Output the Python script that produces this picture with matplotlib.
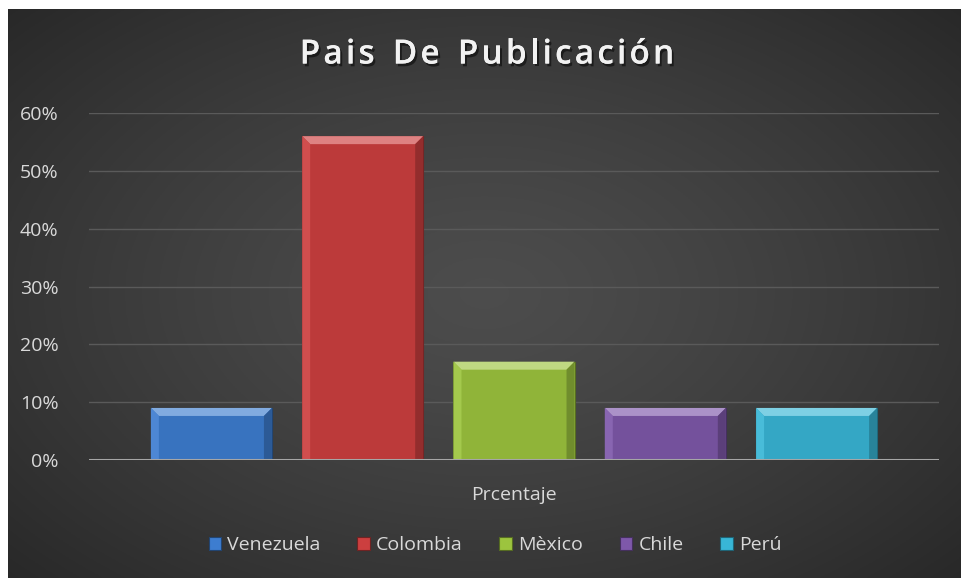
import matplotlib
matplotlib.use("Agg")
import matplotlib.pyplot as plt
import matplotlib.patheffects as pe
from matplotlib.patches import Polygon, Rectangle
from matplotlib.ticker import PercentFormatter
import numpy as np

plt.rcParams['font.family'] = ['Open Sans', 'DejaVu Sans']

category = 'Prcentaje'
countries = ['Venezuela', 'Colombia', 'Mèxico', 'Chile', 'Perú']
values = [0.09, 0.56, 0.17, 0.09, 0.09]
colors = ['#3d7dd0', '#cc3f3f', '#9cc43e', '#7e58aa', '#38b6d6']
yticks = [0, 0.1, 0.2, 0.3, 0.4, 0.5, 0.6]
title = 'Pais De Publicación'


def shade(c, f):
  rgb = np.array(matplotlib.colors.to_rgb(c))
  if f > 0:
    rgb = rgb + (1 - rgb) * f
  else:
    rgb = rgb * (1 + f)
  return tuple(np.clip(rgb, 0, 1))


def bevel_bar(ax, x0, x1, y1, color, bx, by):
  # flat face plus bevel edges
  ax.add_patch(Rectangle((x0, 0), x1 - x0, y1, facecolor=shade(color, -0.08), edgecolor=shade(color, -0.45), lw=0.8, zorder=3))
  ax.add_patch(Polygon([(x0, y1), (x1, y1), (x1 - bx, y1 - by), (x0 + bx, y1 - by)],
                       closed=True, facecolor=shade(color, 0.35), lw=0, zorder=4))
  ax.add_patch(Polygon([(x0, 0), (x0, y1), (x0 + bx, y1 - by), (x0 + bx, 0)],
                       closed=True, facecolor=shade(color, 0.08), lw=0, zorder=4))
  ax.add_patch(Polygon([(x1, 0), (x1, y1), (x1 - bx, y1 - by), (x1 - bx, 0)],
                       closed=True, facecolor=shade(color, -0.28), lw=0, zorder=4))


def spaced_title(fig, text, xc, y, spacing, **kw):
  # letter-spaced text, drawn char by char and centred on xc (pixels)
  r = fig.canvas.get_renderer()
  widths = []
  for ch in text:
    t = fig.text(0, 0, ch if ch != ' ' else 'n', **kw)
    w = t.get_window_extent(r).width
    if ch == ' ':
      w *= 0.55
    widths.append(w)
    t.remove()
  total = sum(widths) + spacing * (len(text) - 1)
  x = xc - total / 2
  W, H = fig.bbox.width, fig.bbox.height
  for ch, w in zip(text, widths):
    fig.text(x / W, y / H, ch, ha='left', va='center', **kw)
    x += w + spacing


def main():
  W, H = 961, 578
  fig = plt.figure(figsize=(W / 100, H / 100), dpi=100)
  fig.patch.set_facecolor('white')

  # radial gradient background
  bg = fig.add_axes([8 / W, 0, (W - 8) / W, (H - 9) / H])
  yy, xx = np.mgrid[-1:1:300j, -1:1:500j]
  r = np.sqrt((xx * 0.95) ** 2 + (yy * 0.9) ** 2)
  val = 0.30 - 0.14 * np.clip(r / 1.3, 0, 1) ** 1.3
  bg.imshow(np.dstack([val, val, val]), aspect='auto', extent=[0, 1, 0, 1])
  bg.set_axis_off()

  left, right, top, bottom = 89, 939, 113, 460
  ax = fig.add_axes([left / W, (H - bottom) / H, (right - left) / W, (bottom - top) / H])
  ax.set_facecolor('none')
  ax.set_xlim(-0.5, 0.5)
  ax.set_ylim(0, 0.6)

  n = len(countries)
  step = 0.178
  width = 0.1424
  bx = 8 / (right - left)
  by = 8 / (bottom - top) * 0.6
  for i, (name, v, c) in enumerate(zip(countries, values, colors)):
    xc = (i - (n - 1) / 2) * step
    bevel_bar(ax, xc - width / 2, xc + width / 2, v, c, bx, min(by, v / 2))

  ax.set_yticks(yticks)
  ax.yaxis.set_major_formatter(PercentFormatter(1.0, decimals=0))
  ax.grid(axis='y', color='#5a5a5a', lw=1)
  ax.set_axisbelow(True)
  ax.axhline(0, color='#a6a6a6', lw=2.2, zorder=5)
  for s in ax.spines.values():
    s.set_visible(False)
  ax.tick_params(axis='y', length=0, labelsize=14, labelcolor='#d9d9d9', pad=22)
  ax.set_xticks([0])
  ax.set_xticklabels([category])
  ax.tick_params(axis='x', length=0, labelsize=14, labelcolor='#d9d9d9', pad=19)

  spaced_title(fig, title, 487, H - 55, 3.2, fontsize=24, fontweight='semibold', color='#f2f2f2',
               path_effects=[pe.withSimplePatchShadow(offset=(1.5, -2), shadow_rgbFace='black', alpha=0.5), pe.Normal()])

  handles = [Rectangle((0, 0), 1, 1, facecolor=c, edgecolor=shade(c, -0.45), lw=0.8) for c in colors]
  fig.legend(handles, countries, loc='center', bbox_to_anchor=(0.515, (H - 545) / H), ncol=n,
             frameon=False, fontsize=14, labelcolor='#d9d9d9', handlelength=0.65, handleheight=0.65,
             handletextpad=0.3, columnspacing=1.9)

  fig.savefig('out.png', dpi=100)


if __name__ == "__main__":
  main()
